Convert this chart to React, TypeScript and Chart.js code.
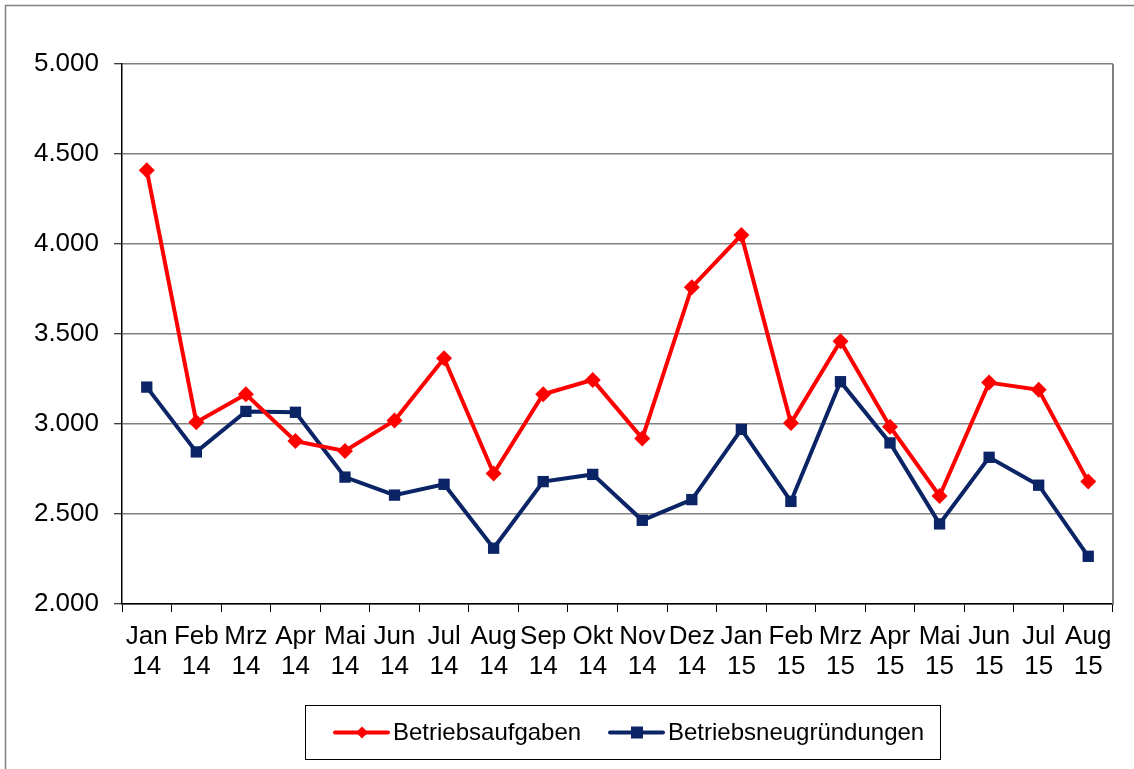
import React, { useEffect, useRef } from "react";
import { Chart, registerables } from "chart.js";

Chart.register(...registerables);

const months = ["Jan", "Feb", "Mrz", "Apr", "Mai", "Jun", "Jul", "Aug", "Sep", "Okt", "Nov", "Dez", "Jan", "Feb", "Mrz", "Apr", "Mai", "Jun", "Jul", "Aug"];
const years = ["14", "14", "14", "14", "14", "14", "14", "14", "14", "14", "14", "14", "15", "15", "15", "15", "15", "15", "15", "15"];

const betriebsaufgaben = [4410, 3010, 3165, 2905, 2850, 3020, 3365, 2725, 3165, 3245, 2920, 3760, 4050, 3005, 3460, 2985, 2600, 3230, 3190, 2680];
const betriebsneugruendungen = [3205, 2845, 3070, 3065, 2705, 2605, 2665, 2310, 2680, 2720, 2465, 2580, 2970, 2570, 3235, 2895, 2445, 2815, 2660, 2265];

const seriesNames = ["Betriebsaufgaben", "Betriebsneugründungen"];
const seriesColors = ["#ff0000", "#0b2466"];

const yMin = 2000;
const yMax = 5000;
const yStep = 500;

const FONT = "'Liberation Sans', Arial, sans-serif";

function fmt(v: number): string {
  const s = Math.round(v).toString();
  return s.replace(/\B(?=(\d{3})+(?!\d))/g, ".");
}

export default function App() {
  const ref = useRef<HTMLCanvasElement | null>(null);

  useEffect(() => {
    document.body.style.margin = "0";
    const canvas = ref.current;
    if (!canvas) return;

    const framePlugin = {
      id: "frame",
      beforeDraw(chart: any) {
        const ctx = chart.ctx;
        ctx.save();
        ctx.fillStyle = "#ffffff";
        ctx.fillRect(0, 0, chart.width, chart.height);
        ctx.strokeStyle = "#808080";
        ctx.lineWidth = 1.5;
        ctx.beginPath();
        ctx.moveTo(5.5, chart.height);
        ctx.lineTo(5.5, 5.5);
        ctx.lineTo(chart.width, 5.5);
        ctx.stroke();
        ctx.restore();
      },
      afterDraw(chart: any) {
        const ctx = chart.ctx;
        const a = chart.chartArea;
        ctx.save();
        // right border of plot area
        ctx.strokeStyle = "#808080";
        ctx.lineWidth = 2;
        ctx.beginPath();
        ctx.moveTo(a.right, a.top);
        ctx.lineTo(a.right, a.bottom);
        ctx.stroke();

        // legend box
        const bx = 305.5, by = 705.5, bw = 635, bh = 54;
        ctx.strokeStyle = "#000000";
        ctx.lineWidth = 1;
        ctx.strokeRect(bx, by, bw, bh);
        const cy = by + bh / 2;
        const items = [
          { x: 335, text: seriesNames[0], color: seriesColors[0], shape: "diamond" },
          { x: 610, text: seriesNames[1], color: seriesColors[1], shape: "square" },
        ];
        ctx.font = "24px " + FONT;
        ctx.textBaseline = "middle";
        ctx.textAlign = "left";
        for (const it of items) {
          ctx.strokeStyle = it.color;
          ctx.lineWidth = 4;
          ctx.lineCap = "round";
          ctx.beginPath();
          ctx.moveTo(it.x, cy);
          ctx.lineTo(it.x + 53, cy);
          ctx.stroke();
          ctx.fillStyle = it.color;
          const mx = it.x + 27;
          if (it.shape === "diamond") {
            ctx.beginPath();
            ctx.moveTo(mx, cy - 6);
            ctx.lineTo(mx + 6, cy);
            ctx.lineTo(mx, cy + 6);
            ctx.lineTo(mx - 6, cy);
            ctx.closePath();
            ctx.fill();
          } else {
            ctx.fillRect(mx - 6, cy - 6, 12, 12);
          }
          ctx.fillStyle = "#000000";
          ctx.fillText(it.text, it.x + 58, cy + 1);
        }
        ctx.restore();
      },
    };

    const chart = new Chart(canvas, {
      type: "line",
      data: {
        labels: months.map((m, i) => [m, years[i]]),
        datasets: [
          {
            label: seriesNames[0],
            data: betriebsaufgaben,
            borderColor: seriesColors[0],
            backgroundColor: seriesColors[0],
            borderWidth: 4,
            pointStyle: "rectRot",
            pointRadius: 8,
            pointBorderWidth: 0,
            tension: 0,
          },
          {
            label: seriesNames[1],
            data: betriebsneugruendungen,
            borderColor: seriesColors[1],
            backgroundColor: seriesColors[1],
            borderWidth: 4,
            pointStyle: "rect",
            pointRadius: 8,
            pointBorderWidth: 0,
            tension: 0,
          },
        ],
      },
      options: {
        responsive: false,
        animation: false,
        devicePixelRatio: 1,
        layout: { padding: { left: 0, top: 64, right: 21, bottom: 69 } },
        plugins: {
          legend: { display: false },
          tooltip: { enabled: false },
          title: { display: false },
        },
        scales: {
          x: {
            type: "category",
            offset: true,
            afterFit: (s: any) => {
              s.height = 96;
            },
            grid: {
              offset: true,
              drawOnChartArea: false,
              drawTicks: true,
              tickLength: 8,
              tickColor: "#000000",
              tickWidth: 1,
            },
            border: { color: "#000000", width: 1.5 },
            ticks: {
              color: "#000000",
              font: { family: FONT, size: 26, lineHeight: 1.15 },
              padding: 10,
              maxRotation: 0,
              autoSkip: false,
            },
          },
          y: {
            min: yMin,
            max: yMax,
            afterFit: (s: any) => {
              s.width = 122;
            },
            grid: {
              color: "#808080",
              lineWidth: 1.5,
              drawTicks: true,
              tickLength: 8,
              tickColor: "#000000",
              tickWidth: 1,
            },
            border: { color: "#000000", width: 1.5 },
            ticks: {
              stepSize: yStep,
              color: "#000000",
              font: { family: FONT, size: 26 },
              padding: 15,
              callback: (v: any) => fmt(Number(v)),
            },
          },
        },
      },
      plugins: [framePlugin],
    });

    return () => chart.destroy();
  }, []);

  return (
    <div style={{ width: 1134, height: 769, position: "relative" }}>
      <canvas ref={ref} width={1134} height={769} style={{ display: "block" }} />
    </div>
  );
}
